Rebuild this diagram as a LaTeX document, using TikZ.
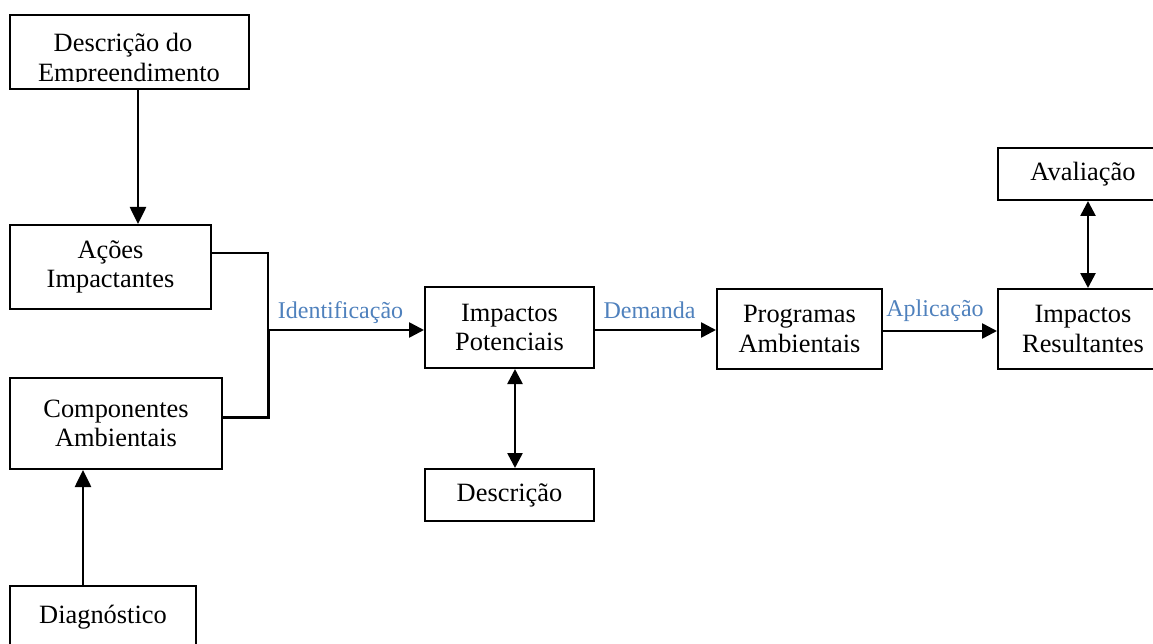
\documentclass[tikz,border=0pt]{standalone}
\usepackage{fontspec}
\setmainfont{Liberation Serif}
\usetikzlibrary{arrows.meta}
\definecolor{lblue}{HTML}{4F81BD}
\begin{document}
\begin{tikzpicture}[x=1pt,y=-1pt,
  box/.style={draw, line width=2pt, inner sep=0pt, align=center,
    font=\fontsize{26.4}{29.5}\selectfont},
  txt/.style={inner sep=0pt, font=\fontsize{26.4}{29.5}\selectfont},
  lbl/.style={inner sep=0pt, anchor=base, text=lblue, font=\fontsize{24}{28}\selectfont},
  arr/.style={line width=2.6pt, -{Triangle[width=15pt,length=15pt]}},
  darr/.style={line width=2.6pt, {Triangle[width=15pt,length=15pt]}-{Triangle[width=15pt,length=15pt]}},
  vline/.style={line width=2.6pt, -{Triangle[width=16pt,length=17pt]}}]
\useasboundingbox (0,0) rectangle (1153,644);
\clip (0,0) rectangle (1153,644);
\fill[white] (0,0) rectangle (1153,644);
% boxes
\node[box, minimum width=239, minimum height=74] (desc) at (129.5,52) {};
\begin{scope}
  \clip (10,15) rectangle (249,82);
  \node[txt, anchor=base] (descA) at (123,52) {Descrição do};
  \node[txt, anchor=base] (descB) at (129,81.5) {Empreendimento};
\end{scope}
\node[box, minimum width=201, minimum height=84] (acoes) at (110.5,267) {Ações\\Impactantes};
\node[box, minimum width=212, minimum height=91] (comp) at (116,423.5) {Componentes\\Ambientais};
\node[box, minimum width=186, minimum height=68] (diag) at (103,620) {};
\node[txt, anchor=base] (diagT) at (103,623) {Diagnóstico};
\node[box, minimum width=169, minimum height=81] (ip) at (509.5,327.5) {Impactos\\Potenciais};
\node[box, minimum width=169, minimum height=52] (descr) at (509.5,495) {Descrição};
\node[box, minimum width=165, minimum height=80] (prog) at (799.5,329) {Programas\\Ambientais};
\node[box, minimum width=170, minimum height=80] (ir) at (1083,329) {Impactos\\Resultantes};
\node[box, minimum width=170, minimum height=52] (aval) at (1083,174) {Avaliação};
% junction
\coordinate (j1) at (268,253);
\coordinate (j2) at (268,417);
\coordinate (jm) at (268,330);
\coordinate (ja) at (268,331);
\draw[line width=2pt] (acoes.east |- j1) -- (j1) -- (jm);
\draw[line width=3pt] (jm) -- (j2) -- (comp.east |- j2);
% connectors
\draw[vline] ([xshift=8.5pt]desc.south) -- ([xshift=27.5pt]acoes.north);
\draw[vline] ([xshift=-20pt]diag.north) -- ([xshift=-33pt]comp.south);
\draw[arr] (jm) -- (ip.west |- jm);
\draw[arr] (ip.east |- jm) -- (prog.west |- jm);
\draw[arr] (prog.east |- ja) -- (ir.west |- ja);
\draw[darr] ([xshift=5.5pt]ip.south) -- ([xshift=5.5pt]descr.north);
\draw[darr] ([xshift=5pt]aval.south) -- ([xshift=5pt]ir.north);
% labels
\node[lbl] (l1) at (340.5,318) {Identificação};
\node[lbl] (l2) at (649.5,318) {Demanda};
\node[lbl] (l3) at (935,316) {Aplicação};
\end{tikzpicture}
\end{document}
